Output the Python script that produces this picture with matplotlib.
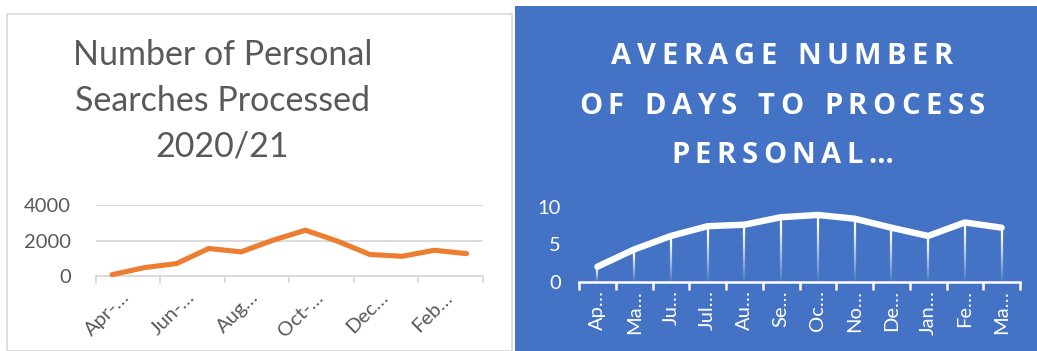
import numpy as np
import matplotlib
matplotlib.use("Agg")
import matplotlib.pyplot as plt
import matplotlib.transforms as mtransforms
from matplotlib.collections import LineCollection
from matplotlib.patches import Rectangle

# Monthly personal searches processed, 2020/21
months = ["Apr", "May", "Jun", "Jul", "Aug", "Sep", "Oct", "Nov", "Dec", "Jan", "Feb", "Mar"]
searches = [75, 470, 700, 1550, 1360, 2020, 2580, 1960, 1210, 1110, 1450, 1260]
search_labels = ["Apr-…", "Jun-…", "Aug…", "Oct-…", "Dec…", "Feb…"]

# Average number of days to process a personal search
avg_days = [2.0, 4.3, 6.1, 7.4, 7.6, 8.6, 8.9, 8.4, 7.2, 6.1, 7.9, 7.2]
days_labels = ["Ap…", "Ma…", "Ju…", "Jul…", "Au…", "Se…", "Oc…", "No…", "De…", "Jan…", "Fe…", "Ma…"]

W, H = 1037, 351
fig = plt.figure(figsize=(W / 100, H / 100), dpi=100)
fig.patch.set_facecolor("white")

FONT = "Lato"
GREY = "#595959"
BLUE = "#4472C4"
ORANGE = "#ED7D31"


def fx(px):
    return px / W


def fy(py):
    return 1 - py / H


def tracked_text(cx_px, base_px, s, track_px, **kw):
    """Draw a centred line of text with extra spacing between letters."""
    renderer = fig.canvas.get_renderer()
    widths = []
    for ch in s:
        t = fig.text(0, 0, ch if ch != " " else "n", **kw)
        bb = t.get_window_extent(renderer)
        widths.append(bb.width * (0.5 if ch == " " else 1.0))
        t.remove()
    total = sum(widths) + track_px * (len(s) - 1)
    xpos = cx_px - total / 2
    for ch, w in zip(s, widths):
        if ch != " ":
            fig.text(fx(xpos), fy(base_px), ch, ha="left", va="baseline", **kw)
        xpos += w + track_px


# Panel backgrounds
fig.patches.append(Rectangle((fx(7), 0), fx(505), fy(14), transform=fig.transFigure,
                             facecolor="white", edgecolor="#d9d9d9", linewidth=1.2, zorder=-10))
fig.patches.append(Rectangle((fx(515), 0), fx(522), fy(6), transform=fig.transFigure,
                             facecolor=BLUE, edgecolor="none", zorder=-10))

# ---- Left chart: searches processed ----
for i, line in enumerate(["Number of Personal", "Searches Processed", "2020/21"]):
    fig.text(fx(222.5), fy(65 + 46 * i), line, ha="center", va="baseline",
             fontsize=24.5, color=GREY, family=FONT)

ax1 = fig.add_axes([fx(96), fy(276), fx(482.7 - 96), fy(205) - fy(276)])
x = np.arange(len(months))
ax1.plot(x, searches, color=ORANGE, lw=3.7, solid_capstyle="round", solid_joinstyle="round",
         clip_on=False, zorder=3)
ax1.set_xlim(-0.5, len(months) - 0.5)
ax1.set_ylim(0, 4000)
ax1.set_yticks([0, 2000, 4000])
ax1.grid(axis="y", color="#d9d9d9", lw=1.3)
ax1.set_axisbelow(True)
for s in ["top", "right", "left"]:
    ax1.spines[s].set_visible(False)
ax1.spines["bottom"].set_color("#d9d9d9")
ax1.spines["bottom"].set_linewidth(1.3)
ax1.set_xticks(np.arange(-0.5, len(months), 2))
ax1.set_xticklabels([])
ax1.tick_params(axis="x", which="major", length=5, width=1.3, color="#d9d9d9")
ax1.set_xticks(x[::2], minor=True)
ax1.set_xticklabels(search_labels, minor=True, rotation=45, ha="right",
                    rotation_mode="anchor", fontsize=14.5, color=GREY, family=FONT)
ax1.tick_params(axis="x", which="minor", length=0, pad=9)
shift = mtransforms.ScaledTranslation(9 / 100, 0, fig.dpi_scale_trans)
for t in ax1.get_xticklabels(minor=True):
    t.set_transform(t.get_transform() + shift)
ax1.tick_params(axis="y", length=0, pad=18, labelsize=14.5, labelcolor=GREY)
for t in ax1.get_yticklabels():
    t.set_family(FONT)
ax1.patch.set_alpha(0)

# ---- Right chart: average days to process ----
for i, line in enumerate(["AVERAGE NUMBER", "OF DAYS TO PROCESS", "PERSONAL…"]):
    tracked_text(782, 64 + 49.5 * i, line, 5.5,
                 fontsize=21, color="white", family="Open Sans", weight="bold")

ax2 = fig.add_axes([fx(579), fy(281.7), fx(1020 - 579), fy(206.7) - fy(281.7)])
ax2.set_facecolor("none")
ax2.set_xlim(-0.5, len(months) - 0.5)
ax2.set_ylim(0, 10)

# Drop lines fading from white at the series down to the axis
segs, cols = [], []
n = 40
for xi, v in zip(x, avg_days):
    ys = np.linspace(0, v, n + 1)
    for k in range(n):
        segs.append([(xi, ys[k]), (xi, ys[k + 1])])
        a = (k + 0.5) / n
        cols.append((1, 1, 1, min(1.0, 0.05 + 1.1 * a)))
ax2.add_collection(LineCollection(segs, colors=cols, linewidths=1.6, zorder=2))

ax2.plot(x, avg_days, color="white", lw=4.6, solid_capstyle="round", solid_joinstyle="round",
         clip_on=False, zorder=3)
ax2.set_yticks([0, 5, 10])
for s in ["top", "right", "left"]:
    ax2.spines[s].set_visible(False)
ax2.spines["bottom"].set_color("white")
ax2.spines["bottom"].set_linewidth(1.8)
ax2.set_xticks(np.arange(-0.5, len(months), 1))
ax2.set_xticklabels([])
ax2.tick_params(axis="x", which="major", length=6, width=1.8, color="white")
ax2.set_xticks(x, minor=True)
ax2.set_xticklabels(days_labels, minor=True, rotation=90, fontsize=14.5, color="white", family=FONT)
ax2.tick_params(axis="x", which="minor", length=0, pad=6)
ax2.tick_params(axis="y", length=0, pad=13, labelsize=14.5, labelcolor="white")
for t in ax2.get_yticklabels():
    t.set_family(FONT)

fig.savefig("out.png", dpi=100)
